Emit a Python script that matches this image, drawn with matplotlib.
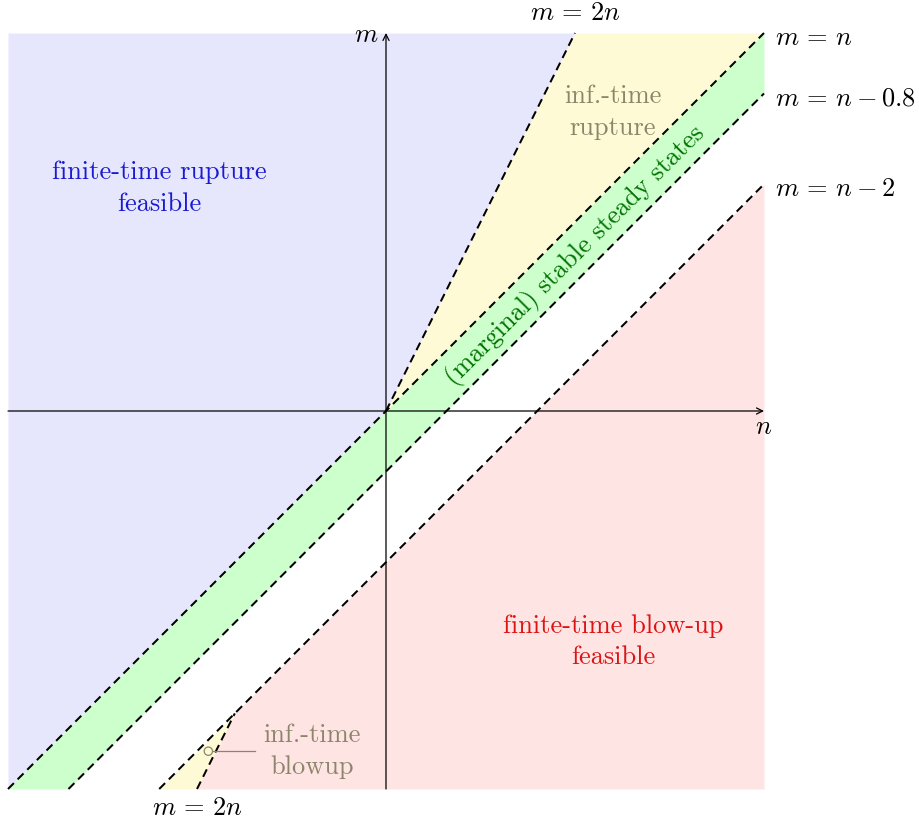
import numpy as np
import matplotlib
matplotlib.use("Agg")
import matplotlib.pyplot as plt
from matplotlib.patches import Circle

plt.rcParams['font.family'] = 'serif'
plt.rcParams['font.serif'] = ['cmr10']
plt.rcParams['mathtext.fontset'] = 'cm'
plt.rcParams['axes.unicode_minus'] = False
plt.rcParams['lines.scale_dashes'] = False

# Domain of the (n, m) phase diagram
lim = 5.0
# Boundary lines m = n + c
offsets = [0.0, -0.8, -2.0]
offset_labels = [r"$m\,=\,n$", r"$m\,=\,n-0.8$", r"$m\,=\,n-2$"]
# Boundary line m = k n
steep_slope = 2.0
steep_label = r"$m\,=\,2n$"

region_labels = {
    "rupture": "finite-time rupture\nfeasible",
    "blowup": "finite-time blow-up\nfeasible",
    "inf_rupture": "inf.-time\nrupture",
    "inf_blowup": "inf.-time\nblowup",
    "steady": "(marginal) stable steady states",
}

c_blue = (230/255, 230/255, 252/255)
c_yellow = (255/255, 250/255, 214/255)
c_green = (204/255, 255/255, 204/255)
c_red = (255/255, 228/255, 228/255)

W, H, dpi = 920, 826, 100
fig = plt.figure(figsize=(W/dpi, H/dpi), dpi=dpi)
ax = fig.add_axes([0, 0, 1, 1])
scale = 75.6  # pixels per unit
x0, y0 = 386, 411
ax.set_xlim(-x0/scale, (W - x0)/scale)
ax.set_ylim(-(H - y0)/scale, y0/scale)
ax.axis('off')

n = np.linspace(-lim, lim, 4001)
k = steep_slope
top_c, mid_c, low_c = offsets

# finite-time rupture: above both m = n and m = 2n
ax.fill_between(n, np.clip(np.maximum(n + top_c, k*n), -lim, lim), lim,
                color=c_blue, lw=0)
# infinite-time rupture: between m = n and m = 2n for n > 0
npos = n[n >= 0]
ax.fill_between(npos, npos + top_c, np.clip(k*npos, -lim, lim), color=c_yellow, lw=0)
# stable steady states: between m = n - 0.8 and m = n
ax.fill_between(n, np.maximum(n + mid_c, -lim), np.maximum(n + top_c, -lim),
                color=c_green, lw=0)
# finite-time blow-up: below both m = n - 2 and m = 2n
ax.fill_between(n, -lim, np.clip(np.minimum(n + low_c, k*n), -lim, lim),
                color=c_red, lw=0)
# infinite-time blow-up: between m = 2n and m = n - 2
nneg = n[n <= low_c / (k - 1)]
ax.fill_between(nneg, np.maximum(k*nneg, -lim), np.maximum(nneg + low_c, -lim),
                color=c_yellow, lw=0)

dash = dict(color='black', lw=1.45, dashes=(6.0, 3.8))
for c in offsets:
    n_start = -lim - c
    ax.plot([n_start, lim], [n_start + c, lim + c], **dash)
# m = 2n: upper piece from origin, lower piece up to the meeting with m = n - 2
ax.plot([0, lim/k], [0, lim], **dash)
n_meet = low_c / (k - 1)
ax.plot([-lim/k, n_meet], [-lim, k*n_meet], **dash)

# coordinate axes
arrow = dict(arrowstyle='->', color='black', lw=0.9, shrinkA=0, shrinkB=0,
             mutation_scale=11)
ax.annotate('', xy=(lim, 0), xytext=(-lim, 0), arrowprops=arrow)
ax.annotate('', xy=(0, lim), xytext=(0, -lim), arrowprops=arrow)

fs = 19
ax.text(lim, -0.05, r"$n$", ha='center', va='top', fontsize=fs)
ax.text(-0.1, lim, r"$m$", ha='right', va='center_baseline', fontsize=fs)

for c, lab in zip(offsets, offset_labels):
    ax.text(lim + 0.15, lim + c - 0.03, lab, ha='left', va='center_baseline', fontsize=fs)
ax.text(lim/k, lim + 0.1, steep_label, ha='center', va='bottom', fontsize=fs)
ax.text(-lim/k, -lim - 0.1, steep_label, ha='center', va='top', fontsize=fs)

ls = 1.42
ax.text(-3.0, 2.95, region_labels["rupture"], ha='center', va='center',
        fontsize=fs, color=(0.1, 0.1, 0.82), linespacing=ls)
ax.text(3.0, -3.05, region_labels["blowup"], ha='center', va='center',
        fontsize=fs, color=(0.86, 0.08, 0.08), linespacing=ls)
ax.text(3.0, 3.95, region_labels["inf_rupture"], ha='center', va='center',
        fontsize=fs, color=(0.55, 0.52, 0.42), linespacing=ls)
ax.text(-0.98, -4.5, region_labels["inf_blowup"], ha='center', va='center',
        fontsize=fs, color=(0.55, 0.52, 0.42), linespacing=ls)
ax.text(2.5, 2.05, region_labels["steady"], ha='center', va='center',
        fontsize=fs, color=(0.0, 0.45, 0.0), rotation=45, rotation_mode='anchor')

olive = (0.55, 0.52, 0.42)
ax.add_patch(Circle((-2.35, -4.5), 0.055, fill=False, ec=olive, lw=0.9))
ax.plot([-2.29, -1.73], [-4.5, -4.5], color=olive, lw=0.9)

fig.savefig("out.png", dpi=dpi)
